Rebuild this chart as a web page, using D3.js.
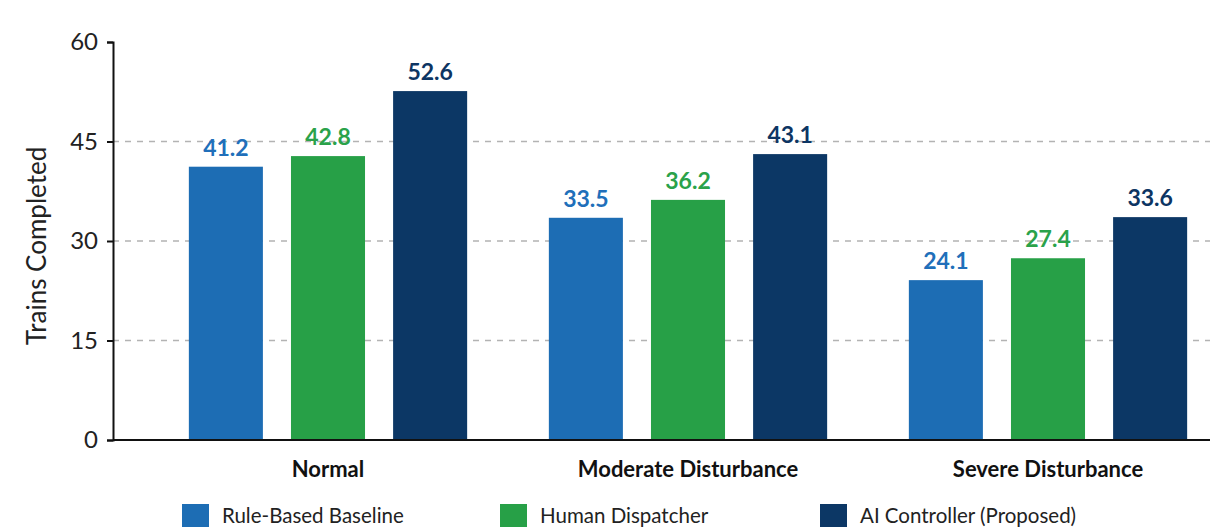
<!DOCTYPE html>
<html>
<head>
<meta charset="utf-8">
<script src="https://cdn.jsdelivr.net/npm/d3@7"></script>
<style>
  body { margin: 0; background: #ffffff; }
  svg { display: block; font-family: Lato, "Open Sans", sans-serif; }
</style>
</head>
<body>
<div id="chart"></div>
<script>
// chart data
var scenarios = ["Normal", "Moderate Disturbance", "Severe Disturbance"];
var seriesNames = ["Rule-Based Baseline", "Human Dispatcher", "AI Controller (Proposed)"];
var ruleBased = [41.2, 33.5, 24.1];
var human = [42.8, 36.2, 27.4];
var aiController = [52.6, 43.1, 33.6];
var yTicks = [0, 15, 30, 45, 60];

var colors = ["#1d6db4", "#27a047", "#0c3765"];
var labelColors = ["#206fba", "#2aa24a", "#0d3563"];

var W = 1214, H = 530;
// plot edges (don't call these top/left: window.top is read-only)
var plotLeft = 113, plotRight = 1210, plotTop = 42, plotBottom = 440;

var svg = d3.select("#chart").append("svg")
  .attr("width", W)
  .attr("height", H);

// scales
var x0 = d3.scaleBand().domain(scenarios).range([148, 1228]).paddingInner(0).paddingOuter(0);
var x1 = d3.scaleBand().domain(seriesNames).range([0, x0.bandwidth()]).paddingInner(0.275).paddingOuter(0.4);
var y = d3.scaleLinear().domain([0, 60]).range([plotBottom, plotTop]);

// gridlines
svg.append("g")
  .selectAll("line")
  .data(yTicks.filter(function(d) { return d > 0 && d < 60; }))
  .enter()
  .append("line")
  .attr("x1", plotLeft)
  .attr("x2", plotRight)
  .attr("y1", function(d) { return y(d); })
  .attr("y2", function(d) { return y(d); })
  .attr("stroke", "#b3b3b3")
  .attr("stroke-width", 1.5)
  .attr("stroke-dasharray", "6,6");

// bars
var table = scenarios.map(function(s, i) {
  return { scenario: s, values: [ruleBased[i], human[i], aiController[i]] };
});

var groups = svg.selectAll(".group")
  .data(table)
  .enter()
  .append("g")
  .attr("transform", function(d) { return "translate(" + x0(d.scenario) + ",0)"; });

groups.selectAll("rect")
  .data(function(d) { return d.values.map(function(v, j) { return { name: seriesNames[j], value: v, j: j }; }); })
  .enter()
  .append("rect")
  .attr("x", function(d) { return x1(d.name); })
  .attr("width", x1.bandwidth())
  .attr("y", function(d) { return y(d.value); })
  .attr("height", function(d) { return plotBottom - y(d.value); })
  .attr("fill", function(d) { return colors[d.j]; });

// value labels
groups.selectAll(".val")
  .data(function(d) { return d.values.map(function(v, j) { return { name: seriesNames[j], value: v, j: j }; }); })
  .enter()
  .append("text")
  .attr("x", function(d) { return x1(d.name) + x1.bandwidth() / 2; })
  .attr("y", function(d) { return y(d.value) - 11; })
  .attr("text-anchor", "middle")
  .attr("font-size", 23)
  .attr("font-weight", 700)
  .attr("fill", function(d) { return labelColors[d.j]; })
  .text(function(d) { return d.value.toFixed(1); });

// y axis
var yAxis = svg.append("g")
  .attr("transform", "translate(" + plotLeft + ",0)")
  .call(d3.axisLeft(y).tickValues(yTicks).tickSize(6).tickPadding(9));
yAxis.select(".domain").attr("stroke", "#111").attr("stroke-width", 2);
yAxis.selectAll(".tick line").attr("stroke", "#111").attr("stroke-width", 2);
yAxis.selectAll(".tick text")
  .attr("font-size", 24)
  .attr("font-family", "Lato, sans-serif")
  .attr("fill", "#222");

// x baseline
svg.append("line")
  .attr("x1", plotLeft)
  .attr("x2", plotRight)
  .attr("y1", plotBottom)
  .attr("y2", plotBottom)
  .attr("stroke", "#111")
  .attr("stroke-width", 2);

// category labels
svg.selectAll(".cat")
  .data(scenarios)
  .enter()
  .append("text")
  .attr("x", function(d) { return x0(d) + x0.bandwidth() / 2; })
  .attr("y", 477)
  .attr("text-anchor", "middle")
  .attr("font-size", 22)
  .attr("font-weight", 700)
  .attr("fill", "#111")
  .text(function(d) { return d; });

// y title
svg.append("text")
  .attr("transform", "translate(46," + 246 + ") rotate(-90)")
  .attr("text-anchor", "middle")
  .attr("font-size", 26)
  .attr("fill", "#222")
  .text("Trains Completed");

// legend
var legendX = [182, 500, 820];
var legend = svg.selectAll(".legend")
  .data(seriesNames)
  .enter()
  .append("g")
  .attr("transform", function(d, i) { return "translate(" + legendX[i] + ",504)"; });

legend.append("rect")
  .attr("width", 27)
  .attr("height", 23)
  .attr("fill", function(d, i) { return colors[i]; });

legend.append("text")
  .attr("x", 40)
  .attr("y", 19)
  .attr("font-size", 20.5)
  .attr("fill", "#222")
  .text(function(d) { return d; });
</script>
</body>
</html>
